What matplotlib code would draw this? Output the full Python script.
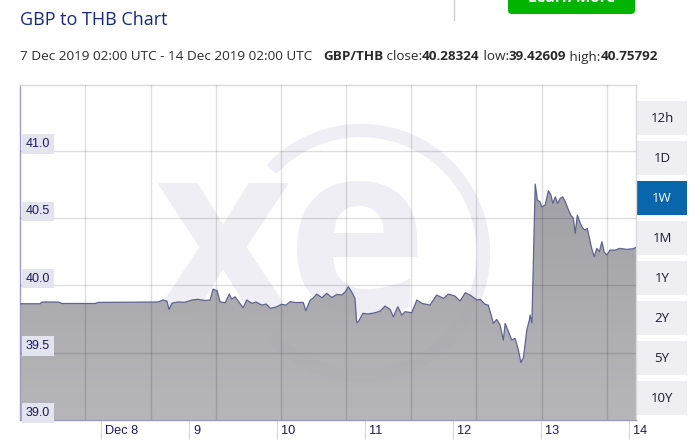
"""GBP to THB one-week chart, xe.com style."""

import matplotlib
matplotlib.use("Agg")
import matplotlib.pyplot as plt
import numpy as np
from matplotlib.colors import LinearSegmentedColormap
from matplotlib.patches import Arc, FancyBboxPatch, Rectangle
from matplotlib import transforms

# hours since 7 Dec 2019 02:00 UTC, and GBP/THB rate
hours = [
    0.0, 5.4, 5.9, 10.3, 11.4, 20.4, 21.2, 37.6, 38.9, 40.0, 40.6, 41.4, 43.0,
    44.9, 46.9, 48.5, 50.4, 51.8, 52.6, 53.7, 54.5, 55.9, 57.0, 57.7, 58.6,
    59.9, 60.8, 61.8, 63.2, 64.3, 65.9, 67.1, 68.2, 69.8, 71.3, 72.5, 73.6,
    75.2, 77.2, 77.9, 79.1, 79.9, 80.9, 82.3, 83.6, 85.0, 86.4, 87.7, 88.6,
    89.5, 90.4, 91.3, 91.8, 92.2, 93.5, 94.9, 96.8, 98.2, 99.5, 100.9, 101.8,
    103.0, 104.1, 105.0, 106.8, 108.2, 109.6, 111.8, 113.6, 115.5, 116.8,
    118.6, 120.0, 121.4, 122.7, 124.6, 125.5, 126.8, 127.7, 129.1, 130.0,
    130.9, 131.8, 132.3, 133.2, 134.1, 135.0, 135.9, 136.6, 137.3, 138.2,
    138.9, 139.1, 139.6, 140.0, 140.5, 141.1, 141.8, 142.3, 143.2, 144.1,
    144.8, 145.3, 146.0, 146.6, 147.3, 148.0, 148.7, 149.6, 150.2, 150.9,
    151.4, 152.0, 152.8, 153.5, 154.1, 154.7, 155.3, 155.9, 156.6, 157.3,
    158.0, 158.7, 159.3, 160.0, 160.9, 162.3, 163.6, 165.4, 167.2, 168.0,
]
rates = [
    39.864, 39.864, 39.877, 39.877, 39.866, 39.866, 39.874, 39.877, 39.892,
    39.884, 39.822, 39.869, 39.877, 39.875, 39.892, 39.897, 39.888, 39.892,
    39.973, 39.961, 39.879, 39.871, 39.936, 39.899, 39.916, 39.867, 39.834,
    39.892, 39.867, 39.877, 39.854, 39.862, 39.830, 39.840, 39.860, 39.854,
    39.879, 39.873, 39.874, 39.812, 39.892, 39.906, 39.936, 39.909, 39.941,
    39.911, 39.934, 39.929, 39.951, 39.990, 39.953, 39.906, 39.724, 39.730,
    39.793, 39.788, 39.797, 39.810, 39.847, 39.822, 39.767, 39.842, 39.780,
    39.805, 39.797, 39.892, 39.867, 39.854, 39.929, 39.904, 39.936, 39.921,
    39.884, 39.946, 39.929, 39.892, 39.897, 39.860, 39.854, 39.718, 39.748,
    39.706, 39.594, 39.718, 39.656, 39.594, 39.607, 39.520, 39.427, 39.466,
    39.669, 39.743, 39.780, 39.721, 40.189, 40.753, 40.634, 40.622, 40.585,
    40.597, 40.704, 40.672, 40.610, 40.659, 40.610, 40.647, 40.659, 40.622,
    40.560, 40.523, 40.499, 40.387, 40.523, 40.461, 40.424, 40.412, 40.424,
    40.350, 40.276, 40.213, 40.276, 40.250, 40.325, 40.250, 40.226, 40.263,
    40.263, 40.276, 40.268, 40.273, 40.283,
]

day_ticks = [22, 46, 70, 94, 118, 142, 166]
day_labels = ["Dec 8", "9", "10", "11", "12", "13", "14"]
y_ticks = [39.0, 39.5, 40.0, 40.5, 41.0]
ranges = ["12h", "1D", "1W", "1M", "1Y", "2Y", "5Y", "10Y"]
selected = "1W"

title = "GBP to THB Chart"
subtitle_runs = [
    ("7 Dec 2019 02:00 UTC - 14 Dec 2019 02:00 UTC   ", "normal"),
    ("GBP/THB", "bold"),
    (" close:", "normal"),
    ("40.28324", "bold"),
    (" low:", "normal"),
    ("39.42609", "bold"),
    (" high:", "normal"),
    ("40.75792", "bold"),
]

NAVY = "#1a1a5c"
HEAD = "Open Sans"
AXF = "Liberation Sans"

W, H = 700, 442
fig = plt.figure(figsize=(W / 100, H / 100), dpi=100)

# full-figure pixel canvas for header, watermark and range buttons
bg = fig.add_axes([0, 0, 1, 1], zorder=0)
bg.set_xlim(0, W)
bg.set_ylim(H, 0)
bg.axis("off")

# plot area: x 20..636 px, y 85..420 px
L, R, T, B = 20.3, 636.0, 85.0, 420.0
ax = fig.add_axes([L / W, 1 - B / H, (R - L) / W, (B - T) / H], zorder=1)
ax.patch.set_alpha(0)

# watermark (xe logo) behind the area
wm = "#eeeef4"
bg.add_patch(Arc((361, 253), 245, 245, theta1=-137, theta2=137, lw=9.6, color=wm))
bg.text(291, 252, "xe", fontsize=172, fontweight="bold", family=HEAD, color=wm,
        ha="center", va="center")

ymin, ymax = 39.0, 41.49
xmin, xmax = 0, 168

# gradient area fill clipped to the series
poly = ax.fill_between(hours, rates, ymin, facecolor="none", edgecolor="none")
cmap = LinearSegmentedColormap.from_list("fill", ["#b0b0b4", "#8e8e95"])
grad = np.linspace(0, 1, 256).reshape(-1, 1)
im = ax.imshow(grad, extent=[xmin, xmax, ymin, ymax], origin="lower",
               aspect="auto", cmap=cmap, alpha=0.92, zorder=1)
im.set_clip_path(poly.get_paths()[0], ax.transData)
ax.plot(hours, rates, color="#5f6390", lw=0.9, zorder=4)

# grid: translucent dark so it shows on white and on the fill
gstep = 17.78
for gx in gstep * np.arange(1, 10):
    ax.axvline(gx, color="black", alpha=0.13, lw=1.0, zorder=3)
for gy in y_ticks[1:]:
    ax.axhline(gy, color="black", alpha=0.13, lw=1.0, zorder=3)

ax.set_xlim(xmin, xmax)
ax.set_ylim(ymin, ymax)

for side in ("left", "bottom"):
    ax.spines[side].set_color("#9c9cc2")
    ax.spines[side].set_linewidth(1.0)
for side in ("top", "right"):
    ax.spines[side].set_color("#dadada")
    ax.spines[side].set_linewidth(1.0)

ax.set_yticks([])
ax.set_xticks(day_ticks)
ax.set_xticklabels([])
ax.tick_params(axis="x", direction="out", length=14, width=0.8, color="#d4d4dc")

# y labels sit inside the plot on small lavender chips
for v in y_ticks:
    ax.text(1.5, v + 0.006, f"{v:.1f}", family=AXF, fontsize=9, color=NAVY,
            ha="left", va="bottom", zorder=5,
            bbox=dict(boxstyle="square,pad=0.3", fc="#e4e4ef", ec="none"))

# day labels to the right of their tick marks
xt = transforms.blended_transform_factory(ax.transData, ax.transAxes)
xt = transforms.offset_copy(xt, fig=fig, x=4, y=0, units="dots")
for d, lab in zip(day_ticks, day_labels):
    ax.text(d, -0.033, lab, transform=xt, family=AXF, fontsize=9.2, color=NAVY,
            ha="left", va="center", clip_on=False)

# range buttons
for i, r in enumerate(ranges):
    top = 101 + 40 * i
    on = r == selected
    bg.add_patch(Rectangle((636.5, top), 50.5, 34, fc="#0866ad" if on else "#eeeef3",
                           ec="none"))
    bg.text(662, top + 17.5, r, family=HEAD, fontsize=9.5,
            color="white" if on else "#1b1b2e", ha="center", va="center")

# header
bg.text(20, 20, title, family=HEAD, fontsize=13, color="#172a7e",
        ha="left", va="center")
renderer = fig.canvas.get_renderer()
x = 20
for s, wt in subtitle_runs:
    t = bg.text(x, 57, s, family=HEAD, fontsize=9.7, fontweight=wt,
                color="#2b2b2b", ha="left", va="center")
    x += t.get_window_extent(renderer).width

# bits of the page above the chart
bg.plot([454, 454], [0, 20], color="#cccccc", lw=1)
bg.add_patch(FancyBboxPatch((508, -20), 127, 34, boxstyle="round,pad=0,rounding_size=4",
                            fc="#00b400", ec="none"))
bg.text(571.5, -2, "Learn More", family=HEAD, fontsize=11, fontweight="bold",
        color="white", ha="center", va="center")

fig.savefig("out.png", dpi=100)
